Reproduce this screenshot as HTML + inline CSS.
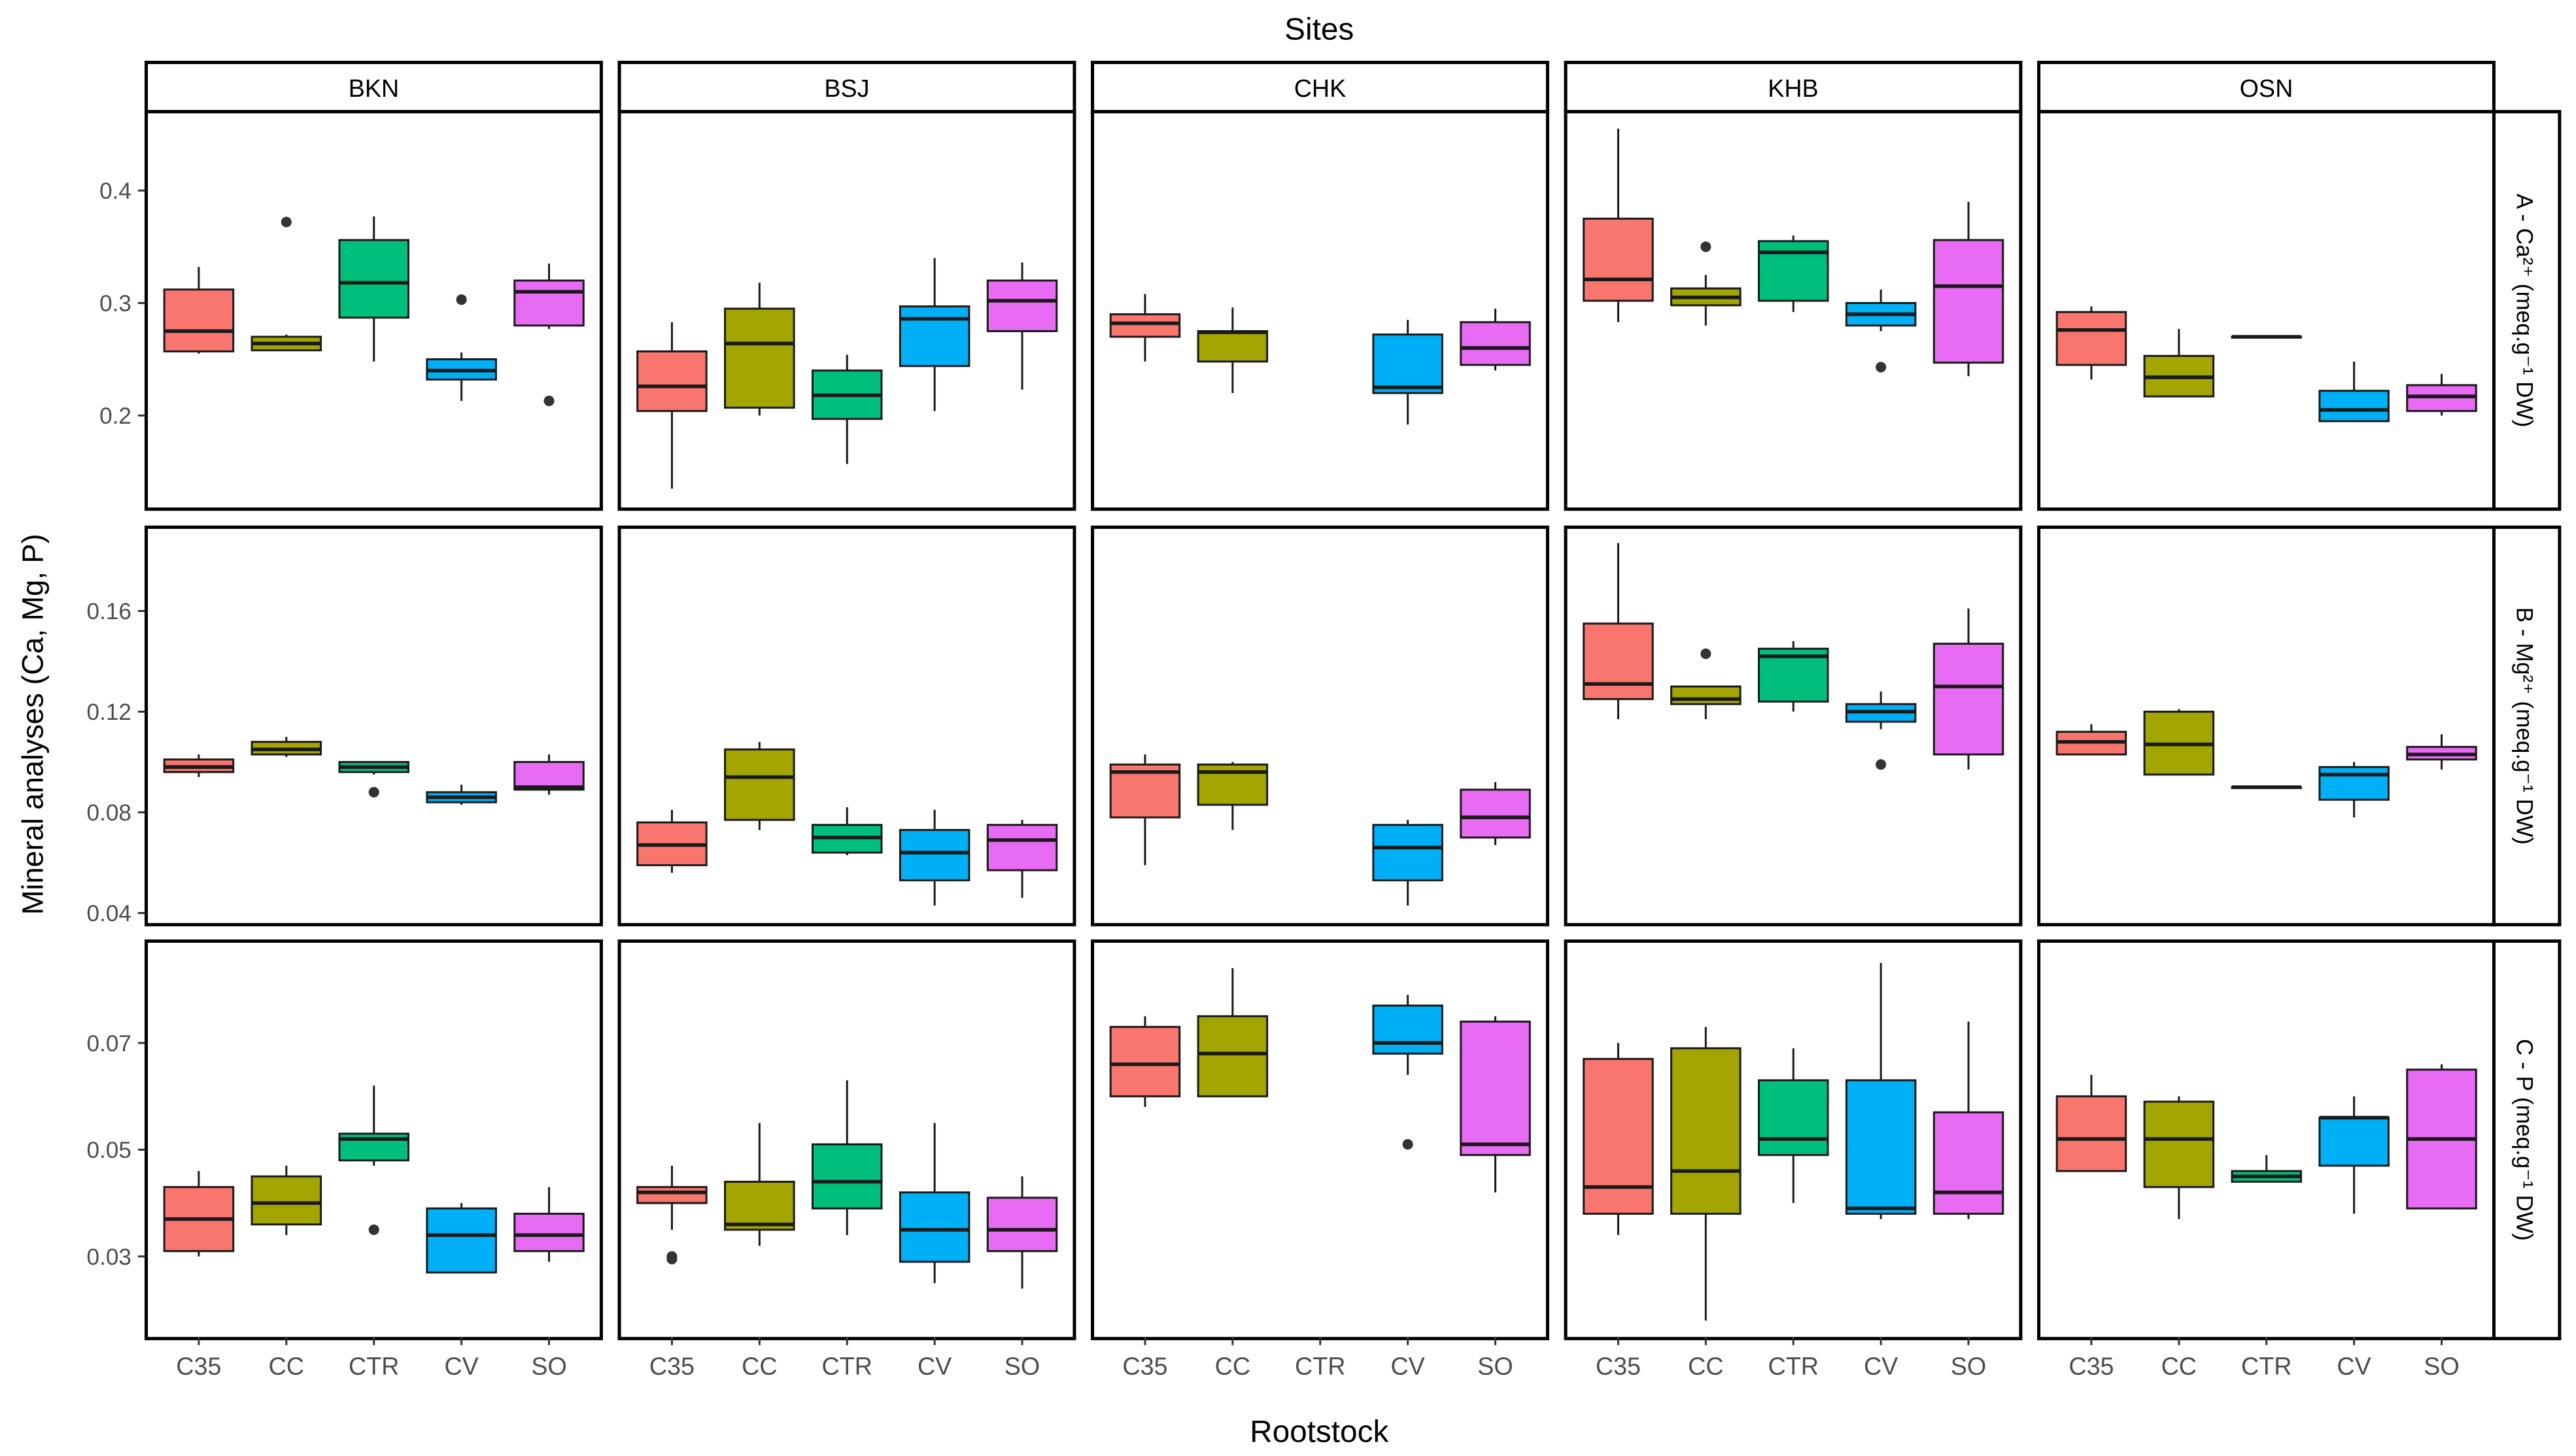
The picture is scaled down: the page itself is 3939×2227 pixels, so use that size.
<!DOCTYPE html>
<html><head><meta charset="utf-8"><style>html,body{margin:0;padding:0;background:#fff}svg{display:block}</style></head>
<body>
<svg id="chart" xmlns="http://www.w3.org/2000/svg" width="3939" height="2227" viewBox="0 0 1568 886.5" preserveAspectRatio="none" font-family="Liberation Sans, sans-serif">
<rect width="1568" height="886.5" fill="#fff"/>
<text x="803" y="24" font-size="19" text-anchor="middle">Sites</text>
<text x="803" y="878" font-size="19" text-anchor="middle">Rootstock</text>
<text transform="translate(26,441) rotate(-90)" font-size="18" text-anchor="middle">Mineral analyses (Ca, Mg, P)</text>
<g id="g"></g>
</svg>
<script>
const sites=["BKN","BSJ","CHK","KHB","OSN"];
const roots=["C35","CC","CTR","CV","SO"];
const colors=["#F8766D","#A3A500","#00BF7D","#00B0F6","#E76BF3"];
const rowLabels=["A - Ca²⁺ (meq.g⁻¹ DW)","B - Mg²⁺ (meq.g⁻¹ DW)","C - P (meq.g⁻¹ DW)"];
const ticksA=[0.2,0.3,0.4], ticksB=[0.04,0.08,0.12,0.16], ticksC=[0.03,0.05,0.07];
const tickLabA=["0.2","0.3","0.4"], tickLabB=["0.04","0.08","0.12","0.16"], tickLabC=["0.03","0.05","0.07"];
// [lowWhisker,q1,median,q3,highWhisker,[outliers]] per site x rootstock
const caData=[
[[0.255,0.257,0.275,0.312,0.332,[]],[0.258,0.258,0.264,0.27,0.272,[0.372]],[0.248,0.287,0.318,0.356,0.377,[]],[0.213,0.232,0.24,0.25,0.256,[0.303]],[0.277,0.28,0.31,0.32,0.335,[0.213]]],
[[0.135,0.204,0.226,0.257,0.283,[]],[0.2,0.207,0.264,0.295,0.318,[]],[0.157,0.197,0.218,0.24,0.254,[]],[0.204,0.244,0.286,0.297,0.34,[]],[0.223,0.275,0.302,0.32,0.336,[]]],
[[0.248,0.27,0.282,0.29,0.308,[]],[0.22,0.248,0.274,0.275,0.296,[]],null,[0.192,0.22,0.225,0.272,0.285,[]],[0.24,0.245,0.26,0.283,0.295,[]]],
[[0.283,0.302,0.321,0.375,0.455,[]],[0.28,0.298,0.305,0.313,0.325,[0.35]],[0.292,0.302,0.345,0.355,0.36,[]],[0.275,0.28,0.29,0.3,0.312,[0.243]],[0.235,0.247,0.315,0.356,0.39,[]]],
[[0.232,0.245,0.276,0.292,0.297,[]],[0.217,0.217,0.234,0.253,0.277,[]],[0.27,0.27,0.27,0.27,0.27,[]],[0.195,0.195,0.205,0.222,0.248,[]],[0.2,0.204,0.217,0.227,0.237,[]]]];
const mgData=[
[[0.094,0.096,0.098,0.101,0.103,[]],[0.102,0.103,0.105,0.108,0.11,[]],[0.095,0.096,0.098,0.1,0.1,[0.088]],[0.083,0.084,0.086,0.088,0.091,[]],[0.087,0.089,0.09,0.1,0.103,[]]],
[[0.056,0.059,0.067,0.076,0.081,[]],[0.073,0.077,0.094,0.105,0.108,[]],[0.063,0.064,0.07,0.075,0.082,[]],[0.043,0.053,0.064,0.073,0.081,[]],[0.046,0.057,0.069,0.075,0.077,[]]],
[[0.059,0.078,0.096,0.099,0.103,[]],[0.073,0.083,0.096,0.099,0.1,[]],null,[0.043,0.053,0.066,0.075,0.077,[]],[0.067,0.07,0.078,0.089,0.092,[]]],
[[0.117,0.125,0.131,0.155,0.187,[]],[0.117,0.123,0.125,0.13,0.13,[0.143]],[0.12,0.124,0.142,0.145,0.148,[]],[0.113,0.116,0.12,0.123,0.128,[0.099]],[0.097,0.103,0.13,0.147,0.161,[]]],
[[0.103,0.103,0.108,0.112,0.115,[]],[0.095,0.095,0.107,0.12,0.121,[]],[0.09,0.09,0.09,0.09,0.09,[]],[0.078,0.085,0.095,0.098,0.1,[]],[0.097,0.101,0.103,0.106,0.111,[]]]];
const pData=[
[[0.03,0.031,0.037,0.043,0.046,[]],[0.034,0.036,0.04,0.045,0.047,[]],[0.047,0.048,0.052,0.053,0.062,[0.035]],[0.027,0.027,0.034,0.039,0.04,[]],[0.029,0.031,0.034,0.038,0.043,[]]],
[[0.035,0.04,0.042,0.043,0.047,[0.03,0.0295]],[0.032,0.035,0.036,0.044,0.055,[]],[0.034,0.039,0.044,0.051,0.063,[]],[0.025,0.029,0.035,0.042,0.055,[]],[0.024,0.031,0.035,0.041,0.045,[]]],
[[0.058,0.06,0.066,0.073,0.075,[]],[0.06,0.06,0.068,0.075,0.084,[]],null,[0.064,0.068,0.07,0.077,0.079,[0.051]],[0.042,0.049,0.051,0.074,0.075,[]]],
[[0.034,0.038,0.043,0.067,0.07,[]],[0.018,0.038,0.046,0.069,0.073,[]],[0.04,0.049,0.052,0.063,0.069,[]],[0.037,0.038,0.039,0.063,0.085,[]],[0.037,0.038,0.042,0.057,0.074,[]]],
[[0.046,0.046,0.052,0.06,0.064,[]],[0.037,0.043,0.052,0.059,0.06,[]],[0.044,0.044,0.045,0.046,0.049,[]],[0.038,0.047,0.056,0.056,0.06,[]],[0.039,0.039,0.052,0.065,0.066,[]]]];

const NS="http://www.w3.org/2000/svg";
const g=document.getElementById('g');
function mk(t,a,p){const e=document.createElementNS(NS,t);for(const k in a)e.setAttribute(k,a[k]);(p||g).appendChild(e);return e;}
const rowTop=[68,321,573], rowH=242, colL=89, colStep=288, colW=277;
const yScales=[v=>116+(0.4-v)*685, v=>372+(0.16-v)*1532.5, v=>635+(0.07-v)*3250];
const allData=[caData,mgData,pData];
const allTicks=[ticksA,ticksB,ticksC], allTickLab=[tickLabA,tickLabB,tickLabC];
const xPos=(c,i)=>colL+c*colStep+32+i*53.3;

// strips top
sites.forEach((s,c)=>{
  const x=colL+c*colStep;
  const r=mk('rect',{x:x,y:38,width:colW,height:30,fill:'#fff',stroke:'#000','stroke-width':2});
  
  
  const t=mk('text',{x:x+colW/2,y:59,'font-size':15,'text-anchor':'middle'});t.textContent=s;
  
  
});
for(let r=0;r<3;r++){
  const top=rowTop[r], ys=yScales[r];
  const sr=mk('rect',{x:1518,y:top,width:40,height:rowH,fill:'#fff',stroke:'#000','stroke-width':2});
  
  
  const st=mk('text',{transform:`translate(1532,${top+rowH/2}) rotate(90)`,'font-size':14,'text-anchor':'middle'});st.textContent=rowLabels[r];
  
  
  // y ticks
  allTicks[r].forEach((tv,k)=>{
    const y=ys(tv);
    mk('line',{x1:84,x2:89,y1:y,y2:y,stroke:'#333','stroke-width':1.2});
    const t=mk('text',{x:80,y:y+5,'font-size':14,'text-anchor':'end',fill:'#4d4d4d'});t.textContent=allTickLab[r][k];
    
    
  });
  for(let c=0;c<5;c++){
    const x0=colL+c*colStep;
    const pr=mk('rect',{x:x0,y:top,width:colW,height:rowH,fill:'#fff',stroke:'#000','stroke-width':2});
    
    
    const grp=mk('g',{});
    
    
    allData[r][c].forEach((d,i)=>{
      if(!d)return;
      const xc=xPos(c,i), w=42;
      mk('line',{x1:xc,x2:xc,y1:ys(d[4]),y2:ys(d[0]),stroke:'#1a1a1a','stroke-width':1.2},grp);
      const b=mk('rect',{x:xc-w/2,y:ys(d[3]),width:w,height:Math.max(0.5,ys(d[1])-ys(d[3])),fill:colors[i],stroke:'#1a1a1a','stroke-width':1.2},grp);
      
      
      mk('line',{x1:xc-w/2,x2:xc+w/2,y1:ys(d[2]),y2:ys(d[2]),stroke:'#1a1a1a','stroke-width':2.2},grp);
      d[5].forEach(o=>{
        const p=mk('circle',{cx:xc,cy:ys(o),r:3.2,fill:'#333'},grp);
        
        
      });
    });
  }
}
// x ticks
sites.forEach((s,c)=>{
  roots.forEach((rt,i)=>{
    const x=xPos(c,i);
    mk('line',{x1:x,x2:x,y1:814,y2:819,stroke:'#333','stroke-width':1.2});
    const t=mk('text',{x:x,y:837,'font-size':15,'text-anchor':'middle',fill:'#4d4d4d'});t.textContent=rt;
    
    
  });
});
</script>
</body></html>
